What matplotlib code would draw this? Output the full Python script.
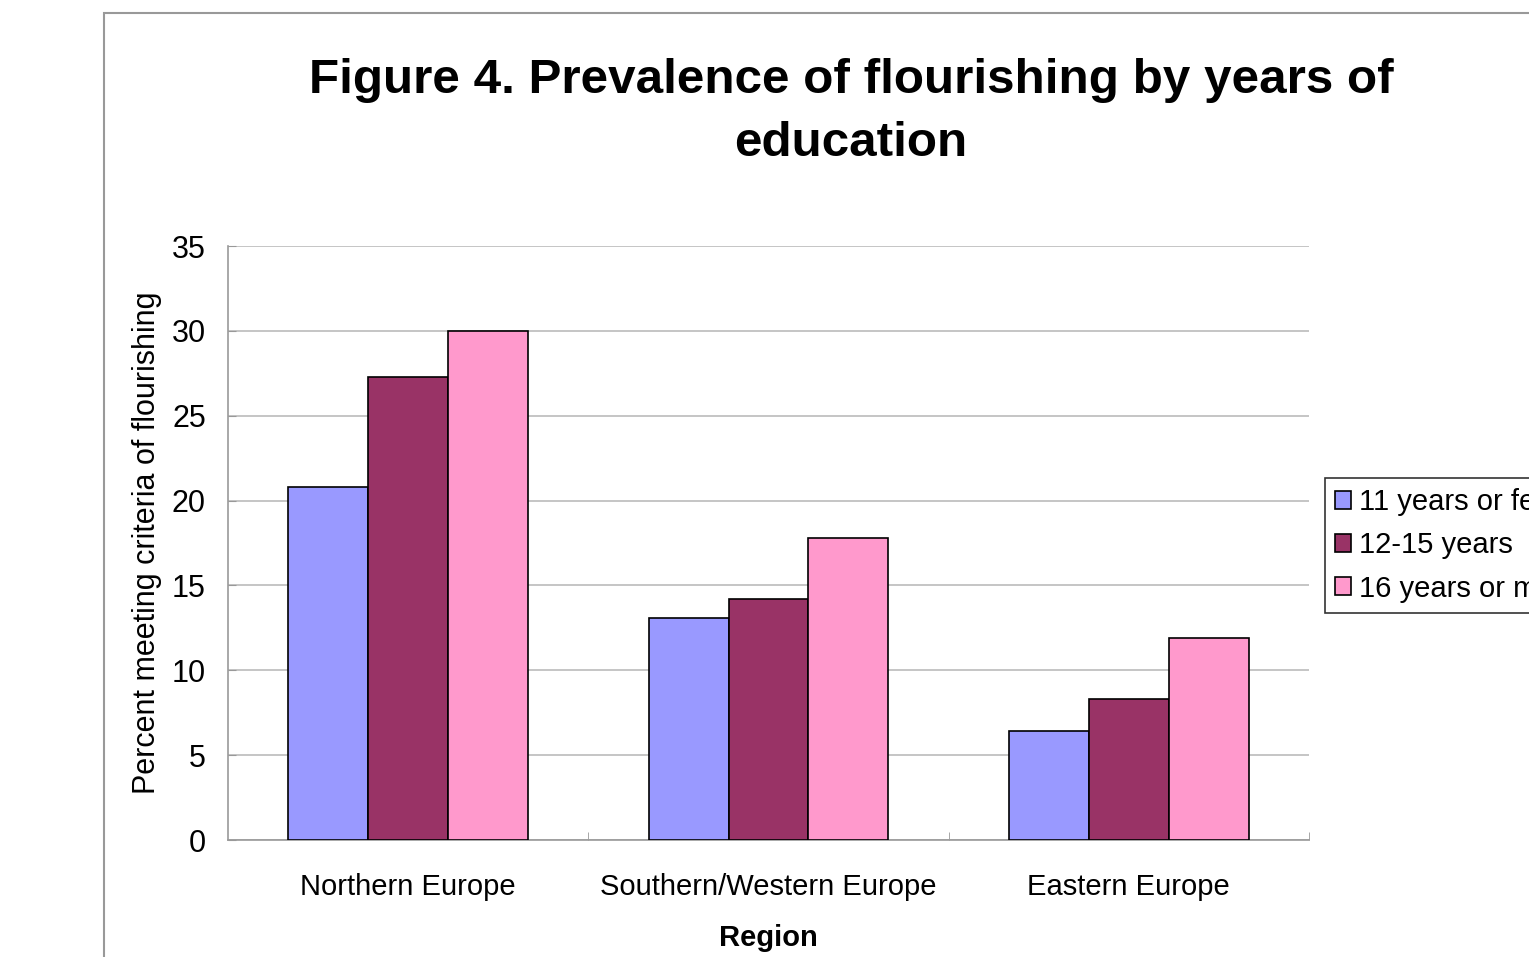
import numpy as np
from matplotlib import pyplot as plt
from matplotlib.patches import Rectangle

regions = ["Northern Europe", "Southern/Western Europe", "Eastern Europe"]
series = ["11 years or fewer", "12-15 years", "16 years or more"]
low = [20.8, 13.1, 6.4]
mid = [27.3, 14.2, 8.3]
high = [30.0, 17.8, 11.9]
colors = ["#9999FF", "#993366", "#FF99CC"]

plt.rcParams['font.family'] = ['Liberation Sans', 'DejaVu Sans']

fig = plt.figure(figsize=(15.29, 9.57), dpi=100)
# chart area frame, cut off at the right and bottom
fig.patches.append(Rectangle((104/1529, -0.1), 1.0, 1 - 13/957 + 0.1,
                             transform=fig.transFigure, fill=False,
                             edgecolor="#999999", linewidth=1.5))

ax = fig.add_axes([228/1529, 1 - 840/957, 1081/1529, 594/957])

x = np.arange(len(regions))
w = 0.222
for i, vals in enumerate([low, mid, high]):
    ax.bar(x + (i - 1)*w, vals, w, color=colors[i], edgecolor="black",
           linewidth=1.2, label=series[i], zorder=3)

ax.set_xlim(-0.5, 2.5)
ax.set_ylim(0, 35)
ax.set_yticks(range(0, 36, 5))
ax.set_xticks(x)
ax.set_xticklabels(regions, fontsize=21)
ax.tick_params(axis="x", length=0, pad=24)
ax.tick_params(axis="y", labelsize=22, length=6, color="#999999", direction="in", pad=16)
# separators between categories
ax.set_xticks([0.5, 1.5, 2.5], minor=True)
ax.tick_params(axis="x", which="minor", length=6, direction="in", color="#999999")
ax.grid(axis="y", color="#bbbbbb", linewidth=1.2, zorder=0)
for s in ["top", "right"]:
    ax.spines[s].set_visible(False)
for s in ["left", "bottom"]:
    ax.spines[s].set_color("#999999")
    ax.spines[s].set_linewidth(1.2)

ax.set_ylabel("Percent meeting criteria of flourishing", fontsize=22, labelpad=7)
ax.set_xlabel("Region", fontsize=21, fontweight="bold", labelpad=16)

fig.text(0.5566, 1 - 112/957, "Figure 4. Prevalence of flourishing by years of\neducation",
         ha="center", va="center", fontsize=35.6, fontweight="bold", linespacing=1.52)

leg = fig.legend(loc="upper left", bbox_to_anchor=(1325/1529, 1 - 478/957),
                 fontsize=21, frameon=True, fancybox=False, edgecolor="black",
                 handlelength=0.55, handleheight=0.55, handletextpad=0.25,
                 labelspacing=0.52, borderpad=0.35, borderaxespad=0)
leg.get_frame().set_linewidth(1.2)

plt.savefig("out.png", dpi=100)
